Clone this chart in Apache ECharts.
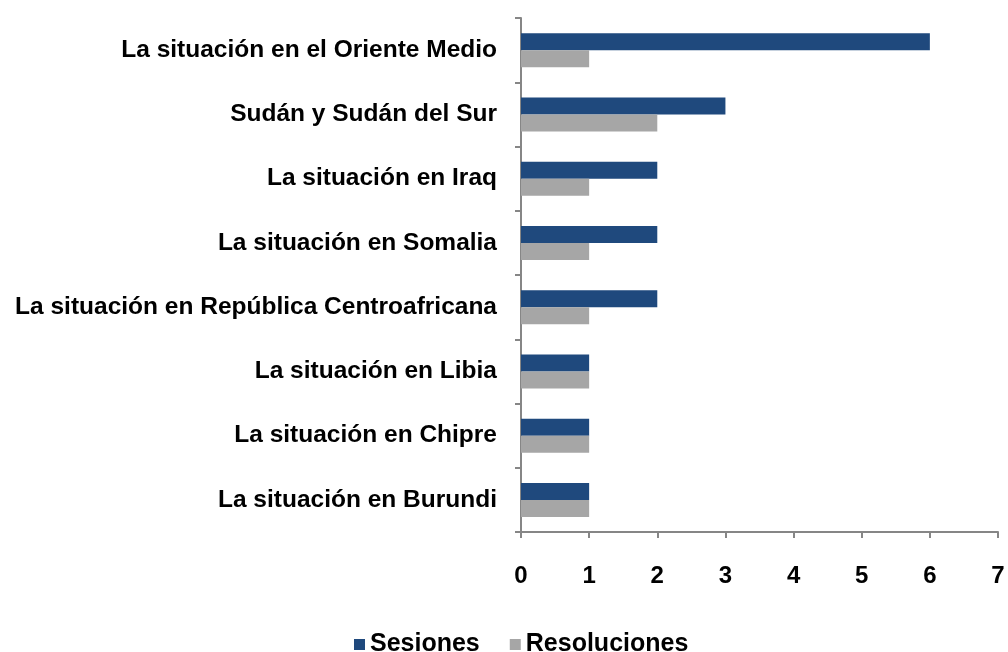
<!DOCTYPE html>
<html><head><meta charset="utf-8">
<script src="https://cdn.jsdelivr.net/npm/echarts@6/dist/echarts.min.js"></script>
<style>html,body{margin:0;padding:0;background:#fff}#c{width:1008px;height:652px}</style>
</head><body><div id="c"></div>
<script>
const categories = [
  "La situación en el Oriente Medio",
  "Sudán y Sudán del Sur",
  "La situación en Iraq",
  "La situación en Somalia",
  "La situación en República Centroafricana",
  "La situación en Libia",
  "La situación en Chipre",
  "La situación en Burundi"
];
const sesiones = [6, 3, 2, 2, 2, 1, 1, 1];
const resoluciones = [1, 2, 1, 1, 1, 1, 1, 1];
const xTicks = [0, 1, 2, 3, 4, 5, 6, 7];

const font = "Liberation Sans, Arial, sans-serif";
const chart = echarts.init(document.getElementById('c'));
chart.setOption({
  animation: false,
  grid: {left: 521, right: 10, top: 18, bottom: 120, containLabel: false},
  legend: {
    left: 349, top: 627,
    itemWidth: 11, itemHeight: 11, itemGap: 30,
    icon: 'rect',
    textStyle: {fontFamily: font, fontSize: 25, color: '#000', fontWeight: 'bold'},
    data: ['Sesiones', 'Resoluciones']
  },
  xAxis: {
    type: 'value', min: xTicks[0], max: xTicks[xTicks.length-1], interval: 1,
    axisLine: {show: true, lineStyle: {color: '#868686', width: 2}},
    axisTick: {show: true, length: 6, lineStyle: {color: '#868686', width: 2}},
    splitLine: {show: false},
    axisLabel: {margin: 32, fontFamily: font, fontSize: 24, color: '#000', fontWeight: 'bold'}
  },
  yAxis: {
    type: 'category', data: categories, inverse: true,
    axisLine: {show: true, lineStyle: {color: '#868686', width: 2}},
    axisTick: {show: true, length: 6, lineStyle: {color: '#868686', width: 2}},
    axisLabel: {margin: 24, fontFamily: font, fontSize: 24.5, color: '#000', fontWeight: 'bold'}
  },
  series: [
    {name: 'Sesiones', type: 'bar', data: sesiones, barWidth: 17, barGap: '0%',
     itemStyle: {color: '#1f497d'}},
    {name: 'Resoluciones', type: 'bar', data: resoluciones, barWidth: 17, barGap: '0%',
     itemStyle: {color: '#a6a6a6'}}
  ]
});
</script></body></html>
